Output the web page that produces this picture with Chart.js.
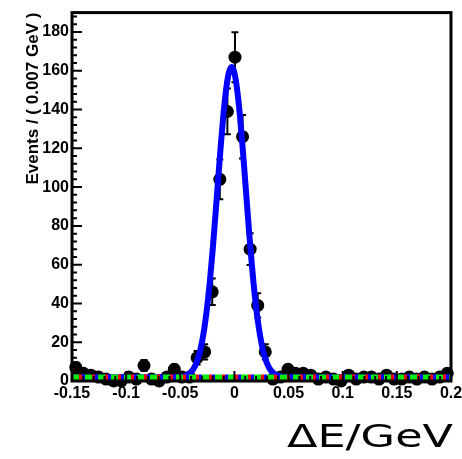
<!DOCTYPE html>
<html>
<head>
<meta charset="utf-8">
<script src="https://cdn.jsdelivr.net/npm/chart.js@4.4.0/dist/chart.umd.min.js"></script>
<style>
  html, body { margin: 0; padding: 0; background: #fff; }
</style>
</head>
<body>
<canvas id="deChart" width="462" height="459"></canvas>
<script>
// bin centres (0.007 GeV bins from -0.15 to 0.2) and event counts
const binCenters = [
  -0.1465, -0.1395, -0.1325, -0.1255, -0.1185, -0.1115, -0.1045, -0.0975, -0.0905, -0.0835,
  -0.0765, -0.0695, -0.0625, -0.0555, -0.0485, -0.0415, -0.0345, -0.0275, -0.0205, -0.0135,
  -0.0065, 0.0005, 0.0075, 0.0145, 0.0215, 0.0285, 0.0355, 0.0425, 0.0495, 0.0565,
  0.0635, 0.0705, 0.0775, 0.0845, 0.0915, 0.0985, 0.1055, 0.1125, 0.1195, 0.1265,
  0.1335, 0.1405, 0.1475, 0.1545, 0.1615, 0.1685, 0.1755, 0.1825, 0.1895, 0.1965
];
const events = [
  7, 4, 3, 2, 1, 0, 0, 2, 1, 8,
  1, 0, 2, 6, 2, 2, 12, 15, 46, 104,
  139, 167, 126, 68, 39, 15, 1, 2, 6, 4,
  4, 3, 1, 2, 1, 0, 3, 1, 2, 2,
  1, 3, 1, 1, 2, 1, 2, 1, 2, 4
];
const eventErrors = [
  2.6, 2, 1.7, 1.4, 1, 0, 0, 1.4, 1, 2.8,
  1, 0, 1.4, 2.4, 1.4, 1.4, 3.5, 3.9, 6.8, 10.2,
  11.8, 12.9, 11.2, 8.2, 6.2, 3.9, 1, 1.4, 2.4, 2,
  2, 1.7, 1, 1.4, 1, 0, 1.7, 1, 1.4, 1.4,
  1, 1.7, 1, 1, 1.4, 1, 1.4, 1, 1.4, 2
];

// total fit (blue curve)
const fitX = [
  -0.15, -0.05, -0.045, -0.0425, -0.04, -0.0375, -0.035, -0.0325, -0.03, -0.0275,
  -0.025, -0.0225, -0.02, -0.0175, -0.015, -0.0125, -0.01, -0.0075, -0.005, -0.0025,
  0, 0.0025, 0.005, 0.0075, 0.01, 0.0125, 0.015, 0.0175, 0.02, 0.0225,
  0.025, 0.0275, 0.03, 0.0325, 0.035, 0.0375, 0.04, 0.045, 0.05, 0.2
];
const fitY = [
  1.8, 1.9, 2.8, 3.5, 4.7, 6.6, 9.5, 13.8, 19.9, 28.3,
  39.1, 52.5, 68.2, 85.8, 104.2, 122.2, 138.4, 151.2, 159.3, 162,
  158.9, 150.3, 137.3, 120.9, 102.8, 84.4, 66.9, 51.3, 38.1, 27.5,
  19.4, 13.4, 9.2, 6.4, 4.6, 3.5, 2.8, 2.2, 1.9, 1.8
];

// background components (dashed, nearly flat)
const bkgX = [-0.15, 0.2];
const bkgGreen = [1.8, 1.8];
const bkgRed = [1.8, 1.8];
const bkgBlue = [1.8, 1.8];

const xTickValues = [-0.15, -0.1, -0.05, 0, 0.05, 0.1, 0.15, 0.2];
const xTickLabels = ['-0.15', '-0.1', '-0.05', '0', '0.05', '0.1', '0.15', '0.2'];
const yTickValues = [0, 20, 40, 60, 80, 100, 120, 140, 160, 180];

function toPoints(xs, ys) {
  return xs.map((x, i) => ({ x: x, y: ys[i] }));
}

const errorBars = {
  id: 'errorBars',
  beforeDatasetsDraw(chart) {
    const c = chart.ctx;
    const xs = chart.scales.x, ys = chart.scales.y;
    c.save();
    c.strokeStyle = '#000';
    c.lineWidth = 2;
    for (let i = 0; i < binCenters.length; i++) {
      if (!eventErrors[i]) continue;
      const px = xs.getPixelForValue(binCenters[i]);
      const top = ys.getPixelForValue(events[i] + eventErrors[i]);
      const bot = ys.getPixelForValue(Math.max(events[i] - eventErrors[i], 0));
      c.beginPath();
      c.moveTo(px, top); c.lineTo(px, bot);
      c.moveTo(px - 3.5, top); c.lineTo(px + 3.5, top);
      c.moveTo(px - 3.5, bot); c.lineTo(px + 3.5, bot);
      c.stroke();
    }
    c.restore();
  }
};

const frameAndTicks = {
  id: 'frameAndTicks',
  afterDraw(chart) {
    const c = chart.ctx;
    const a = chart.chartArea;
    const xs = chart.scales.x, ys = chart.scales.y;
    c.save();
    c.strokeStyle = '#000';
    c.lineWidth = 2;
    c.beginPath();
    for (let v = 0; v <= 188; v += 4) {
      const py = ys.getPixelForValue(v);
      const len = v % 20 === 0 ? 10 : 5;
      c.moveTo(a.left, py); c.lineTo(a.left + len, py);
    }
    for (let k = 0; k <= 35; k++) {
      const v = -0.15 + k * 0.01;
      const px = xs.getPixelForValue(v);
      const len = k % 5 === 0 ? 10 : 5;
      c.moveTo(px, a.bottom); c.lineTo(px, a.bottom - len);
    }
    c.stroke();
    c.lineWidth = 3;
    c.strokeRect(a.left, a.top, a.right - a.left, a.bottom - a.top);

    // axis caption under the frame
    const label = '\u0394E/GeV';
    c.font = '32px "DejaVu Sans"';
    c.fillStyle = '#000';
    c.textBaseline = 'alphabetic';
    const w = c.measureText(label).width;
    const sx = 166 / w;
    c.translate(287, 447);
    c.scale(sx, 1);
    c.fillText(label, 0, 0);
    c.restore();
  }
};

const ctx = document.getElementById('deChart');
new Chart(ctx, {
  type: 'scatter',
  data: {
    datasets: [
      {
        label: 'bkg green',
        data: toPoints(bkgX, bkgGreen),
        showLine: true,
        borderColor: '#00ee00',
        borderWidth: 6,
        borderDash: [7, 6],
        pointRadius: 0,
        order: 0
      },
      {
        label: 'bkg red',
        data: toPoints(bkgX, bkgRed),
        showLine: true,
        borderColor: '#ff0000',
        borderWidth: 6,
        borderDash: [3, 10],
        borderDashOffset: -7,
        pointRadius: 0,
        order: 1
      },
      {
        label: 'bkg blue',
        data: toPoints(bkgX, bkgBlue),
        showLine: true,
        borderColor: '#0000ff',
        borderWidth: 6,
        borderDash: [3, 10],
        borderDashOffset: -10,
        pointRadius: 0,
        order: 2
      },
      {
        label: 'fit',
        data: toPoints(fitX, fitY),
        showLine: true,
        borderColor: '#0000ff',
        borderWidth: 6,
        pointRadius: 0,
        cubicInterpolationMode: 'monotone',
        order: 3
      },
      {
        label: 'data',
        data: toPoints(binCenters, events),
        showLine: false,
        backgroundColor: '#000',
        borderWidth: 0,
        pointRadius: 6.5,
        clip: false,
        order: 5
      }
    ]
  },
  options: {
    responsive: false,
    animation: false,
    layout: { padding: { top: 9, right: 11, left: 0, bottom: 0 } },
    plugins: {
      legend: { display: false },
      tooltip: { enabled: false }
    },
    scales: {
      x: {
        type: 'linear',
        min: -0.15,
        max: 0.2,
        grid: { display: false, drawTicks: false },
        border: { display: false },
        afterBuildTicks: (scale) => {
          scale.ticks = xTickValues.map(v => ({ value: v }));
        },
        afterFit: (scale) => {
          scale.height = 78;
          scale.paddingLeft = 0;
          scale.paddingRight = 0;
        },
        ticks: {
          autoSkip: false,
          maxRotation: 0,
          padding: 3,
          color: '#000',
          font: { family: '"Liberation Sans", Arial, sans-serif', size: 16, weight: 'bold' },
          callback: (value, index) => xTickLabels[index]
        }
      },
      y: {
        type: 'linear',
        min: 0,
        max: 190,
        grid: { display: false, drawTicks: false },
        border: { display: false },
        afterBuildTicks: (scale) => {
          scale.ticks = yTickValues.map(v => ({ value: v }));
        },
        afterFit: (scale) => {
          scale.width = 72;
        },
        ticks: {
          padding: 3,
          color: '#000',
          font: { family: '"Liberation Sans", Arial, sans-serif', size: 16, weight: 'bold' }
        },
        title: {
          display: true,
          text: 'Events / ( 0.007 GeV )',
          align: 'end',
          color: '#000',
          padding: { top: 23, bottom: 0 },
          font: { family: '"Liberation Sans", Arial, sans-serif', size: 17, weight: 'bold' }
        }
      }
    }
  },
  plugins: [errorBars, frameAndTicks]
});
</script>
</body>
</html>
